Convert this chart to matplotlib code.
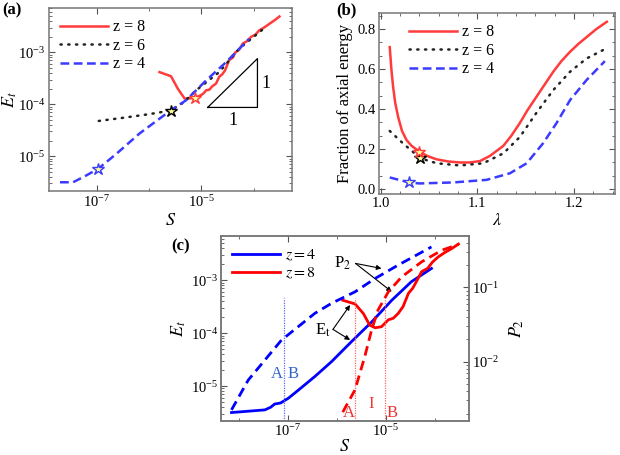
import numpy as np
import matplotlib
matplotlib.use("Agg")
import matplotlib.pyplot as plt
from matplotlib.ticker import LogLocator, NullFormatter, MultipleLocator

plt.rcParams['font.family'] = ['Liberation Serif', 'DejaVu Serif']
plt.rcParams['mathtext.fontset'] = 'stix'
plt.rcParams['font.size'] = 10.5

# ---- panel (a): E_t vs S (log10 values)
a4_S = [-7.70, -7.45, -7.2, -6.97, -6.62, -6.18, -5.59, -5.29, -4.91, -4.53, -4.09]
a4_E = [-5.5, -5.5, -5.37, -5.24, -4.95, -4.56, -4.12, -3.92, -3.54, -3.19, -2.74]
a6_S = [-6.96, -6.5, -6.0, -5.59, -5.35, -5.10, -4.66, -4.28, -3.77]
a6_E = [-4.32, -4.26, -4.19, -4.12, -3.97, -3.73, -3.38, -2.93, -2.51]
a8_S = [-5.8, -5.58, -5.45, -5.32, -5.13, -5.0, -4.95, -4.91, -4.85, -4.8, -4.72, -4.66,
        -4.6, -4.55, -4.47, -4.4, -4.35, -4.28, -4.21, -4.12, -4.05, -3.97, -3.90, -3.80, -3.70, -3.6, -3.51]
a8_E = [-3.38, -3.46, -3.7, -3.89, -3.88, -3.82, -3.78, -3.73, -3.72, -3.66, -3.60, -3.47,
        -3.42, -3.35, -3.15, -3.1, -3.00, -2.95, -2.83, -2.78, -2.70, -2.66, -2.58, -2.52, -2.45, -2.38, -2.31]
a_star_S = [-6.97, -5.59, -5.13]
a_star_E = [-5.24, -4.12, -3.88]

# ---- panel (b): fraction of axial energy vs lambda
b8_l = [1.0093, 1.011, 1.0128, 1.015, 1.018, 1.022, 1.0266, 1.032, 1.040, 1.048, 1.0577, 1.07,
        1.082, 1.092, 1.1026, 1.113, 1.1268, 1.135, 1.144, 1.152, 1.161, 1.17, 1.1786, 1.187,
        1.196, 1.205, 1.213, 1.223, 1.234]
b8_f = [0.71, 0.60, 0.51, 0.43, 0.36, 0.29, 0.245, 0.215, 0.187, 0.165, 0.148, 0.137,
        0.132, 0.132, 0.139, 0.165, 0.215, 0.265, 0.33, 0.395, 0.46, 0.525, 0.587, 0.64,
        0.687, 0.728, 0.76, 0.80, 0.837]
b6_l = [1.0093, 1.023, 1.041, 1.058, 1.082, 1.106, 1.127, 1.144, 1.161, 1.1786, 1.196, 1.213, 1.230]
b6_f = [0.29, 0.228, 0.153, 0.128, 0.117, 0.128, 0.178, 0.26, 0.38, 0.495, 0.587, 0.653, 0.695]
b4_l = [1.0093, 1.0293, 1.040, 1.075, 1.1095, 1.1337, 1.151, 1.168, 1.182, 1.196, 1.213, 1.232]
b4_f = [0.057, 0.032, 0.027, 0.032, 0.045, 0.078, 0.128, 0.228, 0.33, 0.445, 0.545, 0.64]
b_star_l = [1.029, 1.041, 1.040]
b_star_f = [0.032, 0.153, 0.185]

# ---- panel (c): E_t (left) and P_2 (right) vs S
c4E_S = [-8.15, -7.47, -7.35, -7.27, -7.15, -6.99, -6.79, -6.45, -6.11, -5.70, -5.29, -4.88, -4.48, -4.07]
c4E_E = [-5.50, -5.45, -5.40, -5.34, -5.32, -5.23, -5.08, -4.82, -4.54, -4.16, -3.79, -3.38, -3.03, -2.78]
c4P_S = [-8.15, -7.81, -7.47, -7.13, -6.79, -6.45, -6.11, -5.63, -5.22, -4.75, -4.07]
c4P_P = [-2.65, -2.25, -1.98, -1.71, -1.53, -1.35, -1.215, -1.06, -0.88, -0.70, -0.455]
c8E_S = [-5.88, -5.63, -5.46, -5.33, -5.22, -5.09, -4.95, -4.85, -4.75, -4.65, -4.54, -4.45,
         -4.35, -4.27, -4.15, -4.05, -3.93, -3.8, -3.65, -3.52]
c8E_E = [-3.38, -3.45, -3.63, -3.85, -3.90, -3.88, -3.75, -3.72, -3.63, -3.50, -3.25, -3.15,
         -2.98, -2.84, -2.78, -2.66, -2.56, -2.48, -2.40, -2.32]
c8P_S = [-5.88, -5.63, -5.43, -5.29, -5.16, -4.95, -4.68, -4.27, -3.86, -3.52]
c8P_P = [-2.68, -2.38, -1.93, -1.57, -1.305, -1.06, -0.86, -0.656, -0.50, -0.42]
c_vline_blue = [-7.08]
c_vline_red = [-5.63, -5.01]

red = '#ff3b3b'
blue = '#3b3bff'
dots = (0, (0.5, 2.6))


def p(v):
    return 10.0 ** np.array(v)


def style(ax):
    for s in ax.spines.values():
        s.set_color('#777777')
        s.set_linewidth(1.1)
    ax.tick_params(which='both', direction='in', top=True, right=True, colors='#555555',
                   labelcolor='black', labelsize=10.5, pad=2.5)
    ax.tick_params(which='major', length=4)
    ax.tick_params(which='minor', length=2)


fig = plt.figure(figsize=(6.2, 4.55), dpi=100)

# (a)
ax = fig.add_axes([0.079, 0.580, 0.392, 0.402])
ax.set_xscale('log')
ax.set_yscale('log')
ax.plot(p(a8_S), p(a8_E), color=red, lw=1.8, label='z = 8')
ax.plot(p(a6_S), p(a6_E), color='#222222', lw=1.8, ls=dots, dash_capstyle='round', label='z = 6')
ax.plot(p(a4_S), p(a4_E), color=blue, lw=1.8, ls=(0, (3.5, 1.8)), label='z = 4')
for s, e, c in zip(a_star_S, a_star_E, [blue, 'black', red]):
    ax.plot(10 ** s, 10 ** e, marker='*', ms=9, mfc='#ffff99', mec=c, mew=1.0)
ax.plot([10 ** -4.88, 10 ** -3.93, 10 ** -3.93, 10 ** -4.88],
        [10 ** -4.06, 10 ** -4.06, 10 ** -3.12, 10 ** -4.06], color='black', lw=0.9)
ax.text(10 ** -3.77, 10 ** -3.6, '1', fontsize=13, ha='center', va='center')
ax.text(10 ** -4.40, 10 ** -4.32, '1', fontsize=13, ha='center', va='center')
ax.set_xlim(10 ** -7.91, 10 ** -3.27)
ax.set_ylim(10 ** -5.67, 10 ** -2.15)
ax.set_xticks([1e-7, 1e-5])
ax.xaxis.set_minor_locator(LogLocator(base=10, subs=(1.0,), numticks=20))
ax.xaxis.set_minor_formatter(NullFormatter())
ax.set_yticks([1e-5, 1e-4, 1e-3])
style(ax)
ax.set_xlabel('$S$', fontsize=13, labelpad=1)
ax.set_ylabel('$E_t$', fontsize=13, labelpad=-1)
ax.legend(loc='upper left', frameon=False, handlelength=3.0, fontsize=11.5,
          borderaxespad=0.3, labelspacing=0.15, handletextpad=0.3)
fig.text(0.003, 0.995, '(a)', fontsize=12, fontweight='bold', va='top')

# (b)
ax = fig.add_axes([0.611, 0.574, 0.381, 0.397])
ax.plot(b8_l, b8_f, color=red, lw=1.8, label='z = 8')
ax.plot(b6_l, b6_f, color='#222222', lw=1.8, ls=dots, dash_capstyle='round', label='z = 6')
ax.plot(b4_l, b4_f, color=blue, lw=1.8, ls=(0, (3.5, 1.8)), label='z = 4')
for l, f, c in zip(b_star_l, b_star_f, [blue, 'black', red]):
    ax.plot(l, f, marker='*', ms=9, mfc='#ffff99', mec=c, mew=1.0)
ax.set_xlim(0.998, 1.2425)
ax.set_ylim(-0.025, 0.88)
ax.set_xticks([1.0, 1.1, 1.2])
ax.set_yticks([0.0, 0.2, 0.4, 0.6, 0.8])
ax.xaxis.set_minor_locator(MultipleLocator(0.02))
ax.yaxis.set_minor_locator(MultipleLocator(0.2 / 3))
style(ax)
ax.set_xlabel(r'$\lambda$', fontsize=13, labelpad=1)
ax.set_ylabel('Fraction of axial energy', fontsize=12, labelpad=3)
ax.legend(loc='upper left', frameon=False, handlelength=3.0, fontsize=11.5,
          borderaxespad=0.3, labelspacing=0.15, handletextpad=0.3, bbox_to_anchor=(0.08, 1.0))
fig.text(0.542, 0.995, '(b)', fontsize=12, fontweight='bold', va='top')

# (c)
ax = fig.add_axes([0.356, 0.0747, 0.400, 0.4063])
ax2 = ax.twinx()
ax.set_xscale('log')
ax.set_yscale('log')
ax2.set_yscale('log')
ax.plot(p(c4E_S), p(c4E_E), color='blue', lw=2.0, label='$z = 4$')
ax.plot(p(c8E_S), p(c8E_E), color='red', lw=2.0, label='$z = 8$')
ax2.plot(p(c4P_S), p(c4P_P), color='blue', lw=2.0, ls=(0, (3.5, 2)))
ax2.plot(p(c8P_S), p(c8P_P), color='red', lw=2.0, ls=(0, (3.5, 2)))
ax.set_xlim(10 ** -8.37, 10 ** -3.31)
ax.set_ylim(10 ** -5.66, 10 ** -2.17)
ax2.set_ylim(10 ** -2.80, 10 ** -0.31)
ax.vlines(p(c_vline_blue), 10 ** -5.66, 10 ** -3.34, colors='#6666ff', lw=0.9, linestyles=(0, (1, 1)))
ax.vlines(p(c_vline_red), 10 ** -5.66, 10 ** -3.34, colors='#ff6666', lw=0.9, linestyles=(0, (1, 1)))
ax.text(10 ** -7.23, 10 ** -4.77, 'A', color='#3366cc', fontsize=12, ha='center', va='center')
ax.text(10 ** -6.89, 10 ** -4.77, 'B', color='#3366cc', fontsize=12, ha='center', va='center')
ax.text(10 ** -5.755, 10 ** -5.50, 'A', color='#ee3333', fontsize=12, ha='center', va='center')
ax.text(10 ** -5.31, 10 ** -5.34, 'I', color='#ee3333', fontsize=12, ha='center', va='center')
ax.text(10 ** -4.87, 10 ** -5.50, 'B', color='#ee3333', fontsize=12, ha='center', va='center')
arw = dict(arrowstyle='-|>', color='black', lw=0.8, mutation_scale=7, shrinkA=0, shrinkB=0)
ax.annotate('', xy=(10 ** -5.09, 10 ** -2.78), xytext=(10 ** -5.62, 10 ** -2.685), arrowprops=arw)
ax.annotate('', xy=(10 ** -4.88, 10 ** -3.22), xytext=(10 ** -5.62, 10 ** -2.685), arrowprops=arw)
ax.text(10 ** -5.72, 10 ** -2.685, 'P$_2$', fontsize=12, ha='right', va='center')
ax.annotate('', xy=(10 ** -5.73, 10 ** -3.47), xytext=(10 ** -6.08, 10 ** -3.93), arrowprops=arw)
ax.annotate('', xy=(10 ** -5.73, 10 ** -4.13), xytext=(10 ** -6.08, 10 ** -3.93), arrowprops=arw)
ax.text(10 ** -6.12, 10 ** -3.95, r'E$_\mathrm{t}$', fontsize=12, ha='right', va='center')
ax.set_xticks([1e-7, 1e-5])
ax.xaxis.set_minor_locator(LogLocator(base=10, subs=(1.0,), numticks=20))
ax.xaxis.set_minor_formatter(NullFormatter())
ax.set_yticks([1e-5, 1e-4, 1e-3])
style(ax)
ax.tick_params(which='both', right=False, pad=1.5)
for s in ax2.spines.values():
    s.set_color('#777777')
    s.set_linewidth(1.1)
ax2.tick_params(which='both', direction='in', colors='#555555', labelcolor='black', labelsize=10.5, pad=2.5)
ax2.tick_params(which='major', length=4)
ax2.tick_params(which='minor', length=2)
ax2.set_yticks([1e-2, 1e-1])
ax.set_xlabel('$S$', fontsize=13, labelpad=-1)
ax.set_ylabel('$E_t$', fontsize=13, labelpad=2)
ax2.set_ylabel('$P_2$', fontsize=13, labelpad=6)
ax.legend(loc='upper left', frameon=False, handlelength=3.0, fontsize=11.5,
          borderaxespad=0.3, labelspacing=0.15, handletextpad=0.3)
fig.text(0.277, 0.477, '(c)', fontsize=12, fontweight='bold', va='top')

fig.savefig('out.png', dpi=100)
